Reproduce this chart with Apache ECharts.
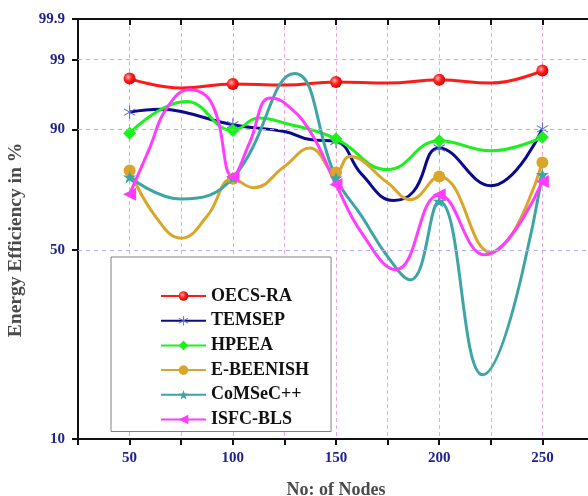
<!DOCTYPE html>
<html>
<head>
<meta charset="utf-8">
<script src="https://cdn.jsdelivr.net/npm/echarts@6/dist/echarts.min.js"></script>
<style>html,body{margin:0;padding:0;background:#fff}#c{width:588px;height:496px}</style>
</head>
<body>
<div id="c"></div>
<script>
// ---- data (Energy Efficiency in %) ----
const nodes = [50, 100, 150, 200, 250];
const yTicks = [10, 50, 90, 99, 99.9];
const yGrid = [50, 90, 99];

const oecsX = [50, 75, 100, 125, 150, 175, 200, 225, 250];
const oecsY = [97.8, 96.9, 97.3, 97.2, 97.5, 97.4, 97.7, 97.4, 98.4];

const temsepX = [50, 65, 75, 100, 125, 137.5, 150, 162.5, 178, 187.5, 200, 225, 250];
const temsepY = [93.5, 94.0, 93.6, 91.0, 89.5, 87.5, 87.0, 77.0, 67.8, 71.0, 85.2, 73.1, 90.1];

const hpeeaX = [50, 77.5, 100, 112.5, 125, 150, 175, 200, 225, 250];
const hpeeaY = [89.1, 95.2, 89.7, 92.4, 91.4, 87.7, 78.6, 87.2, 84.4, 88.1];

const beenishX = [50, 62.5, 75, 87.5, 100, 110, 125, 137.5, 150, 156.5, 175, 186, 200, 225, 250];
const beenishY = [78.3, 62.0, 54.1, 62.0, 75.5, 72.4, 79.6, 85.2, 77.6, 82.7, 74.1, 68.1, 76.3, 49.1, 80.9];

const comsecX = [50, 75, 100, 130, 150, 162.5, 175, 186, 200, 221, 250];
const comsecY = [76.1, 68.3, 75.8, 98.2, 75.8, 62.0, 47.7, 40.2, 67.5, 18.1, 76.9];

const isfcX = [50, 60, 67.5, 79, 90, 100, 108, 118, 125, 137.5, 150, 162.5, 179, 200, 222, 250];
const isfcY = [70.1, 85.6, 93.9, 96.7, 94.8, 76.3, 86.5, 95.7, 95.0, 89.5, 73.5, 55.9, 43.4, 69.9, 48.3, 74.6];

// Weibull probability scale transform
const T = p => Math.log(-Math.log(1 - p / 100));
const yTickT = yTicks.map(T);

const asterisk = 'path://M-0.8,-10L0.8,-10L0.8,10L-0.8,10Z' +
  'M-9.06,-4.307L-8.26,-5.693L9.06,4.307L8.26,5.693Z' +
  'M-8.26,5.693L-9.06,4.307L8.26,-5.693L9.06,-4.307Z';
const star5 = 'path://M0,-10L2.35,-3.24L9.51,-3.09L3.8,1.24L5.88,8.09L0,4L-5.88,8.09L-3.8,1.24L-9.51,-3.09L-2.35,-3.24Z';

function mk(name, xs, ys, lineColor, itemColor, symbol, size, extra) {
  return Object.assign({
    type: 'line', name: name,
    smooth: 0.45,
    symbol: symbol, symbolSize: size, symbolKeepAspect: true,
    lineStyle: { color: lineColor, width: 3 },
    itemStyle: { color: itemColor },
    data: xs.map((x, i) => nodes.includes(x)
      ? { value: [x, T(ys[i])] }
      : { value: [x, T(ys[i])], symbol: 'none' }),
    z: 3
  }, extra || {});
}

const serif = 'Liberation Serif';
const tickColor = '#22228e';

const redBall = { type: 'radial', x: 0.38, y: 0.38, r: 0.7,
  colorStops: [{ offset: 0, color: '#ffb4b4' }, { offset: 0.45, color: '#ff1e1e' }, { offset: 1, color: '#c80000' }] };

const chart = echarts.init(document.getElementById('c'), null, { renderer: 'canvas' });
chart.setOption({
  animation: false,
  backgroundColor: '#fff',
  grid: { left: 78, top: 19, width: 516, height: 420, containLabel: false, outerBoundsMode: 'none' },
  xAxis: [{
    type: 'value', min: 25, max: 275, interval: 25,
    name: 'No: of Nodes', nameLocation: 'middle', nameGap: 42,
    nameTextStyle: { fontFamily: serif, fontWeight: 'bold', fontSize: 18, color: '#4a4a4a' },
    axisLine: { onZero: false, lineStyle: { color: '#111', width: 2 } },
    axisTick: { show: true, inside: false, length: 6, lineStyle: { color: '#111', width: 2 } },
    axisLabel: { margin: 12, fontFamily: serif, fontWeight: 'bold', fontSize: 15, color: tickColor,
      formatter: v => (nodes.includes(v) ? String(v) : '') },
    splitLine: { show: true, lineStyle: { color: '#eea6d6', type: [4, 3], width: 1 } }
  }, {
    type: 'value', min: 25, max: 275, interval: 25, position: 'top',
    axisLine: { show: true, onZero: false, lineStyle: { color: '#111', width: 2 } },
    axisTick: { show: true, inside: true, length: 6, lineStyle: { color: '#111', width: 2 } },
    axisLabel: { show: false }, splitLine: { show: false }
  }],
  yAxis: [{
    type: 'value', min: T(10), max: T(99.9),
    name: 'Energy Efficiency in %', nameLocation: 'middle', nameGap: 52,
    nameTextStyle: { fontFamily: serif, fontWeight: 'bold', fontSize: 19.5, color: '#4a4a4a', padding: [0, 22, 0, 0] },
    axisLine: { show: true, onZero: false, lineStyle: { color: '#111', width: 2 } },
    axisTick: { show: true, inside: false, length: 6, customValues: yTickT, lineStyle: { color: '#111', width: 2 } },
    axisLabel: { margin: 13, fontFamily: serif, fontWeight: 'bold', fontSize: 15, color: tickColor,
      customValues: yTickT,
      formatter: v => { const i = yTickT.findIndex(t => Math.abs(t - v) < 1e-6); return i >= 0 ? String(yTicks[i]) : ''; } },
    splitLine: { show: false }
  }],
  legend: {
    orient: 'vertical', left: 111, top: 257,
    data: ['OECS-RA', 'TEMSEP', 'HPEEA', 'E-BEENISH', 'CoMSeC++', 'ISFC-BLS'],
    itemWidth: 45, itemHeight: 12, itemGap: 6.7,
    padding: [30, 22, 3, 49],
    backgroundColor: '#fff', borderColor: '#808080', borderWidth: 1,
    textStyle: { fontFamily: serif, fontWeight: 'bold', fontSize: 18, color: '#111' }
  },
  series: [
    { type: 'line', name: 'grid', data: [], z: 1, silent: true,
      markLine: { silent: true, symbol: 'none', label: { show: false },
        lineStyle: { color: '#b4aef0', type: [4, 4], width: 1 },
        data: yGrid.map(p => ({ yAxis: T(p) })) } },
    mk('OECS-RA', oecsX, oecsY, '#ff1a1a', redBall, 'circle', 12),
    mk('TEMSEP', temsepX, temsepY, '#0a0a8c', '#5468dc', asterisk, 13),
    mk('HPEEA', hpeeaX, hpeeaY, '#1ef01e', '#1ef01e', 'diamond', 13),
    mk('E-BEENISH', beenishX, beenishY, '#d9a62a', '#d9a62a', 'circle', 12),
    mk('CoMSeC++', comsecX, comsecY, '#3ea5a5', '#3ea5a5', star5, 13),
    mk('ISFC-BLS', isfcX, isfcY, '#ff3cff', '#ff3cff', 'triangle', 13, { symbolRotate: 90 })
  ]
});
</script>
</body>
</html>
